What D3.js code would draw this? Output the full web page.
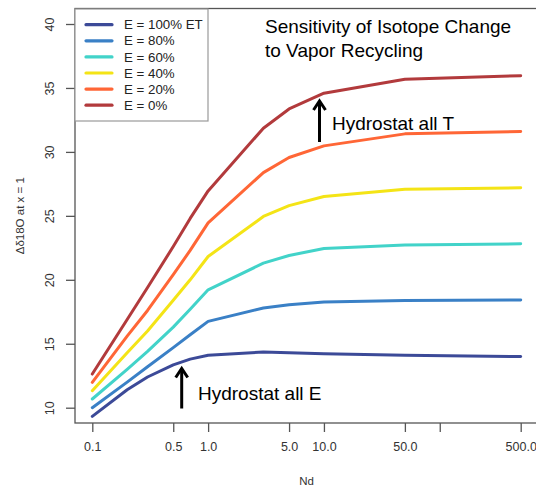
<!DOCTYPE html>
<html>
<head>
<meta charset="utf-8">
<script src="https://cdn.jsdelivr.net/npm/d3@7"></script>
<style>
  body { margin: 0; background: #fff; }
  svg { display: block; font-family: "Liberation Sans", Arial, Helvetica, sans-serif; }
</style>
</head>
<body>
<div class="chart"></div>
<script>
// Data
var nd = [0.1, 0.2, 0.3, 0.5, 0.7, 1, 3, 5, 10, 50, 500];
var seriesNames = ["E = 100% ET", "E = 80%", "E = 60%", "E = 40%", "E = 20%", "E = 0%"];
var seriesColors = ["#3c4a98", "#3a80c6", "#42d3c9", "#f4e416", "#ff6636", "#b23a3c"];
var e100 = [9.32, 11.4, 12.4, 13.35, 13.8, 14.1, 14.36, 14.3, 14.22, 14.1, 14.0];
var e80  = [10.0, 12.0, 13.2, 14.7, 15.7, 16.75, 17.8, 18.05, 18.27, 18.38, 18.43];
var e60  = [10.68, 13.0, 14.4, 16.3, 17.7, 19.22, 21.3, 21.9, 22.45, 22.72, 22.81];
var e40  = [11.33, 14.3, 16.0, 18.4, 20.0, 21.82, 24.95, 25.8, 26.51, 27.08, 27.19];
var e20  = [11.98, 15.6, 17.6, 20.4, 22.3, 24.45, 28.38, 29.56, 30.47, 31.41, 31.59];
var e0   = [12.63, 16.9, 19.4, 22.6, 24.8, 26.95, 31.85, 33.36, 34.59, 35.68, 35.96];
var seriesValues = [e100, e80, e60, e40, e20, e0];
var xTicks = [0.1, 0.5, 1, 5, 10, 50, 100, 500];
var xTickLabels = ["0.1", "0.5", "1.0", "5.0", "10.0", "50.0", "", "500.0"];
var yTicks = [10, 15, 20, 25, 30, 35, 40];

var svgWidth = 536, svgHeight = 489;
var box = {left: 75, right: 538, top: 8.5, bottom: 423};

var svg = d3.select(".chart").append("svg")
    .attr("width", svgWidth)
    .attr("height", svgHeight);

var x = d3.scaleLog().domain([0.1, 500]).range([92.3, 520.7]);
var y = d3.scaleLinear().domain([10, 40]).range([407.7, 24]);

// lines
var line = d3.line()
    .x((d, i) => x(nd[i]))
    .y(d => y(d));

svg.append("g").selectAll("path")
    .data(seriesValues)
    .enter()
    .append("path")
    .attr("d", d => line(d))
    .attr("fill", "none")
    .attr("stroke", (d, i) => seriesColors[i])
    .attr("stroke-width", 3)
    .attr("stroke-linejoin", "round")
    .attr("stroke-linecap", "round");

// frame
svg.append("rect")
    .attr("x", box.left)
    .attr("y", box.top)
    .attr("width", box.right - box.left)
    .attr("height", box.bottom - box.top)
    .attr("fill", "none")
    .attr("stroke", "#555")
    .attr("stroke-width", 1.3);

// axes
var bottomAxis = d3.axisBottom(x)
    .tickValues(xTicks)
    .tickFormat((d, i) => xTickLabels[i])
    .tickSize(9)
    .tickPadding(10);
var gx = svg.append("g")
    .attr("transform", `translate(0, ${box.bottom})`)
    .call(bottomAxis);
gx.select(".domain").remove();

var leftAxis = d3.axisLeft(y)
    .tickValues(yTicks)
    .tickSize(9);
var gy = svg.append("g")
    .attr("transform", `translate(${box.left}, 0)`)
    .call(leftAxis);
gy.select(".domain").remove();
// R style: y labels turned to read upwards
gy.selectAll("text")
    .attr("transform", `translate(${50 - box.left}, 0) rotate(-90)`)
    .attr("x", 0)
    .attr("y", 0)
    .attr("dy", "0.35em")
    .attr("text-anchor", "middle");

svg.selectAll(".tick line").attr("stroke", "#555").attr("stroke-width", 1.3);
svg.selectAll(".tick text")
    .attr("fill", "#333")
    .style("font-size", "12.5px")
    .style("font-family", "'Liberation Sans', Arial, sans-serif");

// axis titles
svg.append("text")
    .attr("x", (box.left + box.right) / 2)
    .attr("y", 485)
    .attr("text-anchor", "middle")
    .attr("fill", "#333")
    .style("font-size", "11.5px")
    .text("Nd");
svg.append("text")
    .attr("transform", `translate(24, ${(box.top + box.bottom) / 2}) rotate(-90)`)
    .attr("text-anchor", "middle")
    .attr("fill", "#333")
    .style("font-size", "11.5px")
    .text("Δδ18O at x = 1");

// legend
var legend = svg.append("g");
legend.append("rect")
    .attr("x", box.left)
    .attr("y", 9)
    .attr("width", 133)
    .attr("height", 112)
    .attr("fill", "#fff")
    .attr("stroke", "#999")
    .attr("stroke-width", 1.2);
var rows = legend.selectAll(".row")
    .data(seriesNames)
    .enter()
    .append("g")
    .attr("transform", (d, i) => `translate(0, ${24.7 + i * 16.1})`);
rows.append("line")
    .attr("x1", 86).attr("x2", 112)
    .attr("stroke", (d, i) => seriesColors[i])
    .attr("stroke-width", 3.2)
    .attr("stroke-linecap", "round");
rows.append("text")
    .attr("x", 124)
    .attr("dy", "0.35em")
    .attr("fill", "#222")
    .style("font-size", "13.3px")
    .text(d => d);

// title
var title = svg.append("text")
    .attr("x", 265)
    .attr("fill", "#000")
    .style("font-size", "19px");
title.append("tspan").attr("x", 265).attr("y", 33).text("Sensitivity of Isotope Change");
title.append("tspan").attr("x", 265).attr("y", 57).text("to Vapor Recycling");

// annotations with arrows
function arrow(xPos, yTop, yBottom) {
    svg.append("line")
        .attr("x1", xPos).attr("x2", xPos)
        .attr("y1", yTop + 1).attr("y2", yBottom)
        .attr("stroke", "#000").attr("stroke-width", 3);
    svg.append("path")
        .attr("d", `M${xPos - 6},${yTop + 9} L${xPos},${yTop} L${xPos + 6},${yTop + 9}`)
        .attr("fill", "none")
        .attr("stroke", "#000")
        .attr("stroke-width", 3)
        .attr("stroke-linejoin", "miter");
}
arrow(319.5, 101, 142);
svg.append("text").attr("x", 332).attr("y", 129.5)
    .style("font-size", "19px").attr("fill", "#000").text("Hydrostat all T");
arrow(181.7, 368.5, 408.5);
svg.append("text").attr("x", 198).attr("y", 400)
    .style("font-size", "19px").attr("fill", "#000").text("Hydrostat all E");
</script>
</body>
</html>
